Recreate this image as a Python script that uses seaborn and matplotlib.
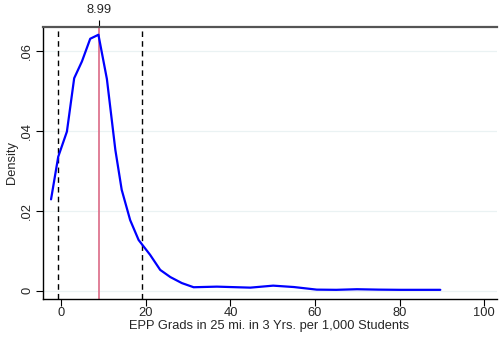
import numpy as np
import pandas as pd
import seaborn as sb
import matplotlib.pyplot as plt

# density curve
grads = [-2.4, -0.7, 1.35, 3.07, 4.9, 6.86, 8.8, 10.8, 12.8, 14.3, 16.3, 18.3,
         21.0, 23.4, 25.8, 28.5, 31.3, 36.8, 44.7, 50.1, 55.0, 60.4, 65.0,
         69.9, 75.0, 80.1, 89.6]
density = [0.0229, 0.0336, 0.0399, 0.0533, 0.0575, 0.0632, 0.0642, 0.0531,
           0.0353, 0.0253, 0.0177, 0.0127, 0.0090, 0.0052, 0.0034, 0.0019,
           0.00085, 0.0010, 0.00075, 0.00125, 0.0009, 0.00025, 0.0002,
           0.00035, 0.00025, 0.0002, 0.0002]
df = pd.DataFrame({'x': grads, 'density': density})

median_val = 8.99
dashed_vals = [-0.7, 19.1]

xticks = [0, 20, 40, 60, 80, 100]
yticks = [0, 0.02, 0.04, 0.06]
yticklabels = ['0', '.02', '.04', '.06']

sb.set_style('white')
plt.rcParams['font.family'] = ['Liberation Sans', 'DejaVu Sans']
fs = 9.3

fig = plt.figure(figsize=(5, 3.39), dpi=100)
ax = fig.add_axes([0.086, 0.118, 0.908, 0.803])

#light gridlines at the y ticks
for y in yticks:
    ax.axhline(y, color='#EAF2F3', lw=0.9, zorder=0)

sb.lineplot(data=df, x='x', y='density', ax=ax, color='#0000FF', lw=1.6, zorder=3)

for v in dashed_vals:
    ax.axvline(v, color='black', ls=(0, (4, 3)), lw=1.0, zorder=2)
ax.axvline(median_val, color='#DC6A86', lw=1.2, zorder=2)

ax.set_xlim(-4.3, 103)
ax.set_ylim(-0.0021, 0.0662)
ax.set_xticks(xticks)
ax.set_xticklabels([str(t) for t in xticks], fontsize=fs)
ax.set_yticks(yticks)
ax.set_yticklabels(yticklabels, fontsize=fs, rotation=90, va='center', ha='center')
ax.tick_params(axis='both', length=5, width=0.8, color='black', direction='out',
               left=True, bottom=True)
ax.tick_params(axis='x', pad=1)
ax.tick_params(axis='y', pad=6.5)
ax.set_xlabel('EPP Grads in 25 mi. in 3 Yrs. per 1,000 Students', fontsize=fs, va='center')
ax.set_ylabel('Density', fontsize=fs, va='center')
ax.xaxis.set_label_coords(0.498, -0.099)
ax.yaxis.set_label_coords(-0.068, 0.5)

ax.spines['right'].set_visible(False)
ax.spines['left'].set_color('black')
ax.spines['bottom'].set_color('black')
ax.spines['left'].set_linewidth(1.0)
ax.spines['bottom'].set_linewidth(1.0)
ax.spines['top'].set_color('#555555')
ax.spines['top'].set_linewidth(1.6)

#top axis marks the median
top = ax.secondary_xaxis('top')
top.set_xticks([median_val])
top.set_xticklabels(['8.99'], fontsize=fs)
top.tick_params(axis='x', length=5, width=0.8, color='black', pad=3)
top.spines['top'].set_visible(False)

plt.savefig('out.png', dpi=100)
